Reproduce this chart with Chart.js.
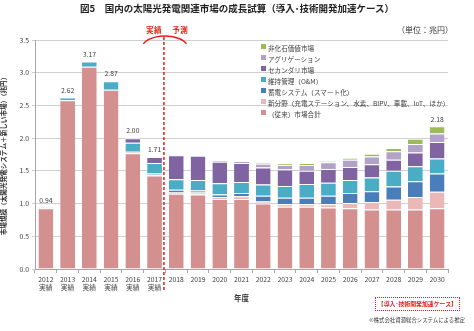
<!DOCTYPE html>
<html lang="ja">
<head>
<meta charset="utf-8">
<script src="https://cdn.jsdelivr.net/npm/chart.js@4/dist/chart.umd.min.js"></script>
<style>
  html, body { margin: 0; padding: 0; background: #fff; }
  #wrap { position: relative; width: 474px; height: 331px; overflow: hidden;
          font-family: "Noto Sans CJK JP", "Noto Sans", sans-serif; color: #404040; }
  #chart { position: absolute; left: 0; top: 0; }
  .txt { position: absolute; white-space: nowrap; line-height: 1; }
  #title { left: 0; width: 474px; text-align: center; top: 4px; font-size: 9.5px; font-weight: bold; color: #222; }
  #unit { left: 397px; top: 26px; font-size: 8px; color: #333; }
  #split { left: 146px; top: 26px; font-size: 7.5px; font-weight: bold; color: #e0201b; letter-spacing: 0.5px; }
  #legend { position: absolute; left: 260px; top: 42px; }
  .lg { position: absolute; left: 0; height: 9px; font-size: 6.6px; white-space: nowrap; color: #404040; }
  .lg i { position: absolute; left: 1px; top: 2px; width: 5px; height: 5px; }
  .lg span { position: absolute; left: 8px; top: 0.5px; }
  #case { right: 14px; top: 297px; font-size: 5.9px; font-weight: bold; color: #e0201b;
          border: 1px dotted #e0201b; padding: 3px 2px; }
  #copy { right: 9px; top: 318px; font-size: 5.4px; color: #333; }
</style>
</head>
<body>
<div id="wrap">
  <canvas id="chart" width="474" height="331"></canvas>
  <div id="title" class="txt">図5　国内の太陽光発電関連市場の成長試算（導入･技術開発加速ケース）</div>
  <div id="unit" class="txt">（単位：兆円）</div>
  <div id="split" class="txt">実績　 予測</div>
  <div id="legend"></div>
  <div id="case" class="txt">【導入･技術開発加速ケース】</div>
  <div id="copy" class="txt">©株式会社資源総合システムによる推定</div>
</div>
<script>
// Fiscal years and the row under them
const years = ['2012','2013','2014','2015','2016','2017','2018','2019','2020','2021','2022','2023','2024','2025','2026','2027','2028','2029','2030'];
const actualCount = 6; // 2012-2017 are results, the rest are projections

// Market size by segment (trillion yen), bottom of the stack first
const legacyMarket   = [0.93, 2.58, 3.09, 2.74, 1.77, 1.43, 1.15, 1.14, 1.07, 1.07, 1.00, 0.95, 0.95, 0.94, 0.93, 0.91, 0.91, 0.91, 0.93];
const newFields      = [0.00, 0.00, 0.00, 0.00, 0.02, 0.01, 0.02, 0.03, 0.03, 0.04, 0.03, 0.04, 0.04, 0.05, 0.08, 0.11, 0.15, 0.19, 0.25];
const storage        = [0.00, 0.00, 0.00, 0.00, 0.01, 0.02, 0.04, 0.03, 0.04, 0.05, 0.09, 0.10, 0.10, 0.13, 0.15, 0.17, 0.20, 0.24, 0.28];
const omService      = [0.01, 0.04, 0.08, 0.13, 0.13, 0.16, 0.16, 0.16, 0.17, 0.17, 0.17, 0.18, 0.21, 0.20, 0.20, 0.21, 0.24, 0.23, 0.23];
const secondary      = [0.00, 0.00, 0.00, 0.00, 0.07, 0.09, 0.37, 0.37, 0.33, 0.29, 0.26, 0.25, 0.20, 0.21, 0.20, 0.20, 0.17, 0.21, 0.25];
const aggregation    = [0.00, 0.00, 0.00, 0.00, 0.00, 0.00, 0.00, 0.00, 0.02, 0.03, 0.06, 0.07, 0.09, 0.10, 0.11, 0.12, 0.13, 0.13, 0.13];
const nonFossil      = [0.00, 0.00, 0.00, 0.00, 0.00, 0.00, 0.00, 0.00, 0.00, 0.00, 0.01, 0.02, 0.03, 0.02, 0.03, 0.04, 0.05, 0.08, 0.11];

// Years whose stack total is printed above the bar
const totalLabelYears = ['2012','2013','2014','2015','2016','2017','2030'];

// Axis ticks
const yTicks = [0, 0.5, 1.0, 1.5, 2.0, 2.5, 3.0, 3.5];

const seriesNames = [
  '（従来）市場合計',
  '新分野（充電ステーション、水素、BIPV、車載、IoT、ほか）',
  '蓄電システム（スマート化）',
  '維持管理（O&M）',
  'セカンダリ市場',
  'アグリゲーション',
  '非化石価値市場'
];
const seriesValues = [legacyMarket, newFields, storage, omService, secondary, aggregation, nonFossil];
const seriesColors = ['#d4908f', '#e9b8b7', '#4a7ebb', '#4bacc6', '#8064a2', '#b3a2c7', '#9bbb59'];

const datasets = seriesNames.map((name, k) => ({
  label: name,
  data: seriesValues[k],
  backgroundColor: seriesColors[k],
  borderColor: 'rgba(255,255,255,0.95)',
  borderWidth: { top: 1, bottom: 0, left: 0, right: 0 },
  borderSkipped: false,
  categoryPercentage: 1.0,
  barPercentage: 0.68
}));

const labels = years.map((y, i) => i < actualCount ? [y, '実績'] : y);

// Legend, top entry is the top of the stack
const legendBox = document.getElementById('legend');
seriesNames.slice().reverse().forEach((name, j) => {
  const k = seriesNames.length - 1 - j;
  const row = document.createElement('div');
  row.className = 'lg';
  row.style.top = (j * 11) + 'px';
  row.innerHTML = '<i style="background:' + seriesColors[k] + '"></i><span></span>';
  row.querySelector('span').textContent = name;
  legendBox.appendChild(row);
});

const fontFamily = '"Noto Sans CJK JP", "Noto Sans", sans-serif';

// Stack totals above selected bars
const totalsPlugin = {
  id: 'totals',
  afterDatasetsDraw(chart) {
    const { ctx, scales: { x, y } } = chart;
    ctx.save();
    ctx.font = '6.8px ' + fontFamily;
    ctx.fillStyle = '#404040';
    ctx.textAlign = 'center';
    ctx.textBaseline = 'bottom';
    totalLabelYears.forEach(yr => {
      const i = years.indexOf(yr);
      const total = seriesValues.reduce((s, arr) => s + arr[i], 0);
      ctx.fillText(total.toFixed(2), x.getPixelForValue(i), y.getPixelForValue(total) - 4);
    });
    ctx.restore();
  }
};

// Red dashed divider between results and projections, with its bracket
const dividerPlugin = {
  id: 'divider',
  afterDraw(chart) {
    const { ctx, scales: { x } } = chart;
    const xm = (x.getPixelForValue(actualCount - 1) + x.getPixelForValue(actualCount)) / 2 - 1.5;
    ctx.save();
    ctx.strokeStyle = '#e0201b';
    ctx.lineWidth = 1.5;
    ctx.setLineDash([3, 2]);
    ctx.beginPath();
    ctx.moveTo(xm, 37);
    ctx.lineTo(xm, 291);
    ctx.stroke();
    ctx.setLineDash([]);
    ctx.lineWidth = 1.4;
    ctx.beginPath();
    ctx.ellipse(xm + 1, 48, 23, 12, 0, Math.PI + 0.35, 2 * Math.PI - 0.35);
    ctx.stroke();
    ctx.restore();
  }
};

new Chart(document.getElementById('chart'), {
  type: 'bar',
  data: { labels, datasets },
  options: {
    responsive: false,
    animation: false,
    devicePixelRatio: 1,
    layout: { padding: { left: 0, top: 40, right: 26, bottom: 28 } },
    plugins: { legend: { display: false }, tooltip: { enabled: false } },
    scales: {
      x: {
        stacked: true,
        offset: true,
        grid: { display: true, drawOnChartArea: false, offset: true, tickLength: 4, color: '#a6a6a6' },
        border: { color: '#a6a6a6' },
        ticks: { autoSkip: false, maxRotation: 0, padding: 2, color: '#404040',
                 font: { family: fontFamily, size: 6.8 } },
        title: { display: true, text: '年度', color: '#333', padding: { top: 2, bottom: 0 },
                 font: { family: fontFamily, size: 7.5, weight: 'bold' } },
        afterFit(s) { s.height = 34; }
      },
      y: {
        stacked: true,
        min: 0,
        max: 3.5,
        afterBuildTicks(s) { s.ticks = yTicks.map(v => ({ value: v })); },
        ticks: { color: '#404040', padding: 3, font: { family: fontFamily, size: 6.8 },
                 callback: v => Number(v).toFixed(1) },
        grid: { color: '#cfcfcf', tickLength: 3 },
        border: { color: '#a6a6a6' },
        title: { display: true, text: '市場規模（太陽光発電システム＋新しい市場）（兆円）', color: '#333',
                 padding: { top: 0, bottom: 2 },
                 font: { family: fontFamily, size: 6.6, weight: 'bold' } },
        afterFit(s) { s.width = 35; }
      }
    }
  },
  plugins: [totalsPlugin, dividerPlugin]
});
</script>
</body>
</html>
